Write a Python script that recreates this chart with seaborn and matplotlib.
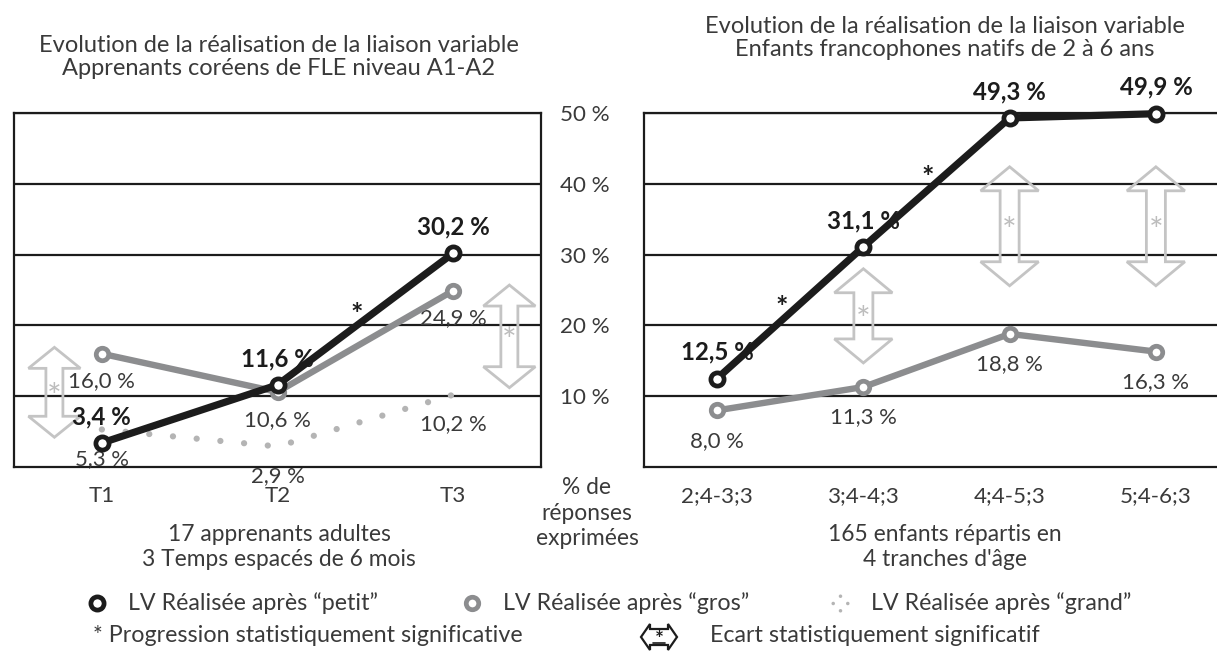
import numpy as np
import matplotlib.pyplot as plt
import matplotlib.patches as mpatches
from matplotlib.lines import Line2D
from matplotlib.path import Path
import seaborn as sns

# Graphique de gauche : apprenants coréens, 3 temps
temps = ["T1", "T2", "T3"]
adultes_petit = [3.4, 11.6, 30.2]
adultes_gros = [16.0, 10.6, 24.9]
adultes_grand = [5.3, 2.9, 10.2]

# Graphique de droite : enfants natifs, 4 tranches d'âge
ages = ["2;4-3;3", "3;4-4;3", "4;4-5;3", "5;4-6;3"]
enfants_petit = [12.5, 31.1, 49.3, 49.9]
enfants_gros = [8.0, 11.3, 18.8, 16.3]

y_ticks = [10, 20, 30, 40, 50]

# progressions significatives (segment de la courbe "petit")
adultes_prog = [1]
enfants_prog = [0, 1]
# écarts significatifs : position x, haut, bas (en %)
adultes_ecarts = [(-0.27, 16.9, 4.2), (2.32, 25.7, 11.2)]
enfants_ecarts = [(1.0, 28.0, 14.7), (2.0, 42.4, 25.6), (3.0, 42.4, 25.6)]

NOIR = "#1c1c1c"
GRIS = "#8c8d8f"
GRIS_CLAIR = "#b4b4b4"
FLECHE = "#c4c4c4"
TXT = "#3a3a3a"

sns.set_style("white")
plt.rcParams["font.family"] = ["Lato", "DejaVu Sans"]

W, H = 1217, 657
fig = plt.figure(figsize=(W / 100, H / 100), dpi=100)
ax1 = fig.add_axes([14 / W, (H - 467) / H, 527 / W, 354 / H])
ax2 = fig.add_axes([644 / W, (H - 467) / H, 585 / W, 354 / H])
rend = fig.canvas.get_renderer()


def taille(texte, largeur, **kw):
    # taille de police qui donne la largeur voulue (en pixels)
    t = fig.text(0, 0, texte, fontsize=10, **kw)
    w = t.get_window_extent(rend).width
    t.remove()
    return 10 * largeur / w


FS_TITRE = taille("Evolution de la réalisation de la liaison variable", 482)
FS_SOUS = taille("17 apprenants adultes", 222)
FS_LEG = taille("LV Réalisée après “petit”", 250)
FS_VAL = taille("16,0 %", 67)
FS_GRAS = taille("30,2 %", 73, fontweight="bold")
FS_TICK = taille("2;4-3;3", 72)


def pct(v):
    return f"{v:.1f}".replace(".", ",") + " %"


def fleche_pts(x, y, dx_h, dx_s, dy_h, haut, bas):
    # contour d'une double flèche verticale (haut/bas = extrémités)
    return [(x, haut), (x + dx_h, haut - dy_h), (x + dx_s, haut - dy_h),
            (x + dx_s, bas + dy_h), (x + dx_h, bas + dy_h), (x, bas),
            (x - dx_h, bas + dy_h), (x - dx_s, bas + dy_h),
            (x - dx_s, haut - dy_h), (x - dx_h, haut - dy_h)]


def courbe(ax, vals, color, lw, ms, mew):
    sns.lineplot(x=np.arange(len(vals)), y=vals, ax=ax, color=color, lw=lw,
                 marker="o", ms=ms, mfc="white", mec=color, mew=mew,
                 sort=False, clip_on=False, zorder=4)


def etiquettes(ax, vals, dy, bold):
    for i, v in enumerate(vals):
        ax.annotate(pct(v), (i, v), xytext=(0, dy), textcoords="offset points",
                    ha="center", va="center", color=NOIR if bold else TXT,
                    fontsize=FS_GRAS if bold else FS_VAL,
                    fontweight="bold" if bold else "normal", zorder=3)


def double_fleche(ax, x, y_haut, y_bas, hw=28, sw=9, hl=23):
    # dimensions en pixels converties en unités de données
    px = ax.get_position().width * W / np.ptp(ax.get_xlim())
    py = ax.get_position().height * H / np.ptp(ax.get_ylim())
    pts = fleche_pts(x, 0, hw / px, sw / px, hl / py, y_haut, y_bas)
    ax.add_patch(mpatches.Polygon(pts, closed=True, fc="none", ec=FLECHE, lw=2,
                                  clip_on=False, zorder=1))
    ax.annotate("*", (x, (y_haut + y_bas) / 2), xytext=(0, -4), textcoords="offset points",
                ha="center", va="center", fontsize=25, color="#bdbdbd", zorder=1)


def etoiles(ax, vals, segs):
    for i in segs:
        ax.annotate("*", ((i + i + 1) / 2, (vals[i] + vals[i + 1]) / 2), xytext=(-6, 3),
                    textcoords="offset points", ha="center", va="center",
                    fontsize=21, color=NOIR, fontweight="bold")


for ax, cats in ((ax1, temps), (ax2, ages)):
    n = len(cats)
    ax.set_xlim(-0.5, n - 0.5)
    ax.set_ylim(0, 50)
    ax.set_xticks(range(n))
    ax.set_xticklabels(cats, fontsize=FS_TICK, color=TXT)
    ax.set_xticks(np.arange(n + 1) - 0.5, minor=True)
    ax.tick_params(axis="x", which="major", length=0, pad=14)
    ax.tick_params(axis="x", which="minor", length=6, width=1.6, color=NOIR, direction="out")
    ax.set_yticks(y_ticks)
    ax.yaxis.grid(True, color=NOIR, lw=1.6)
    ax.set_axisbelow(True)
    for s in ax.spines.values():
        s.set_color(NOIR)
        s.set_linewidth(1.6)
    ax.set_xlabel("")
    ax.set_ylabel("")

ax1.tick_params(axis="y", length=4, width=1.6, color=NOIR, direction="out", labelleft=False)
ax2.tick_params(axis="y", length=5, width=1.6, color=NOIR, direction="out", pad=20,
                labelsize=FS_TICK, labelcolor=TXT)
ax2.set_yticklabels([f"{t} %" for t in y_ticks])
ax2.spines["right"].set_visible(False)

# courbes
sns.lineplot(x=np.arange(len(adultes_grand)), y=adultes_grand, ax=ax1, color=GRIS_CLAIR,
             lw=4.5, linestyle=(0, (0.01, 3.8)), dash_capstyle="round", sort=False, zorder=2)
courbe(ax1, adultes_gros, GRIS, 4.6, 9, 3.4)
courbe(ax1, adultes_petit, NOIR, 5.2, 9.5, 3.4)
courbe(ax2, enfants_gros, GRIS, 4.6, 9, 3.4)
courbe(ax2, enfants_petit, NOIR, 5.2, 9.5, 3.4)

etiquettes(ax1, adultes_petit, 19, True)
etiquettes(ax1, adultes_gros, -20, False)
etiquettes(ax1, adultes_grand, -21, False)
etiquettes(ax2, enfants_petit, 19, True)
etiquettes(ax2, enfants_gros, -22, False)

etoiles(ax1, adultes_petit, adultes_prog)
etoiles(ax2, enfants_petit, enfants_prog)
for e in adultes_ecarts:
    double_fleche(ax1, *e, hw=26, sw=8.5, hl=21)
for e in enfants_ecarts:
    double_fleche(ax2, *e, hw=29, sw=9.5, hl=24)

# titres et textes
kw = dict(ha="center", va="center", color=TXT)
fig.text(279 / W, 1 - 57 / H, "Evolution de la réalisation de la liaison variable\n"
         "Apprenants coréens de FLE niveau A1-A2", fontsize=FS_TITRE, linespacing=1.15, **kw)
fig.text(945 / W, 1 - 38 / H, "Evolution de la réalisation de la liaison variable\n"
         "Enfants francophones natifs de 2 à 6 ans", fontsize=FS_TITRE, linespacing=1.15, **kw)
fig.text(279 / W, 1 - 547 / H, "17 apprenants adultes\n3 Temps espacés de 6 mois",
         fontsize=FS_SOUS, linespacing=1.25, **kw)
fig.text(945 / W, 1 - 547 / H, "165 enfants répartis en\n4 tranches d'âge",
         fontsize=FS_SOUS, linespacing=1.25, **kw)
fig.text(587 / W, 1 - 513 / H, "% de\nréponses\nexprimées", fontsize=FS_SOUS,
         linespacing=1.25, **kw)

# légende
pts_grand = Path.make_compound_path(*[Path.circle(c, 0.24) for c in
                                     [(0, 1), (1, 0), (0, -1), (-1, 0)]])
poignees = [
    dict(marker="o", ms=9.5, mfc="white", mec=NOIR, mew=3.4),
    dict(marker="o", ms=9, mfc="white", mec=GRIS, mew=3.4),
    dict(marker=pts_grand, ms=13, mfc=GRIS_CLAIR, mec="none"),
]
libelles = ["LV Réalisée après “petit”", "LV Réalisée après “gros”",
            "LV Réalisée après “grand”"]
for x0, p, lib in zip([97, 472, 840], poignees, libelles):
    fig.add_artist(Line2D([x0 / W], [1 - 603 / H], transform=fig.transFigure, **p))
    fig.text((x0 + 31) / W, 1 - 603 / H, lib, ha="left", va="center",
             fontsize=FS_LEG, color=TXT)

fig.text(93 / W, 1 - 636 / H, "* Progression statistiquement significative",
         ha="left", va="center", fontsize=FS_LEG, color=TXT)

# symbole "écart significatif" : petite double flèche horizontale
cx, cy = 659, H - 637
icone = [(cx + b, cy + a) for a, b in fleche_pts(0, 0, 13, 8, 9, 18, -18)]
fig.add_artist(mpatches.Polygon([(px / W, py / H) for px, py in icone], closed=True,
                                fc="white", ec=NOIR, lw=1.6, transform=fig.transFigure))
fig.text(cx / W, (cy - 3) / H, "*", ha="center", va="center", fontsize=15, color=NOIR,
         fontweight="bold")
fig.add_artist(Line2D([(cx - 6) / W, (cx + 6) / W], [(cy - 6) / H] * 2,
                      transform=fig.transFigure, color=NOIR, lw=1.2))
fig.text(710 / W, 1 - 636 / H, "Ecart statistiquement significatif",
         ha="left", va="center", fontsize=FS_LEG, color=TXT)

fig.savefig("out.png", dpi=100)
